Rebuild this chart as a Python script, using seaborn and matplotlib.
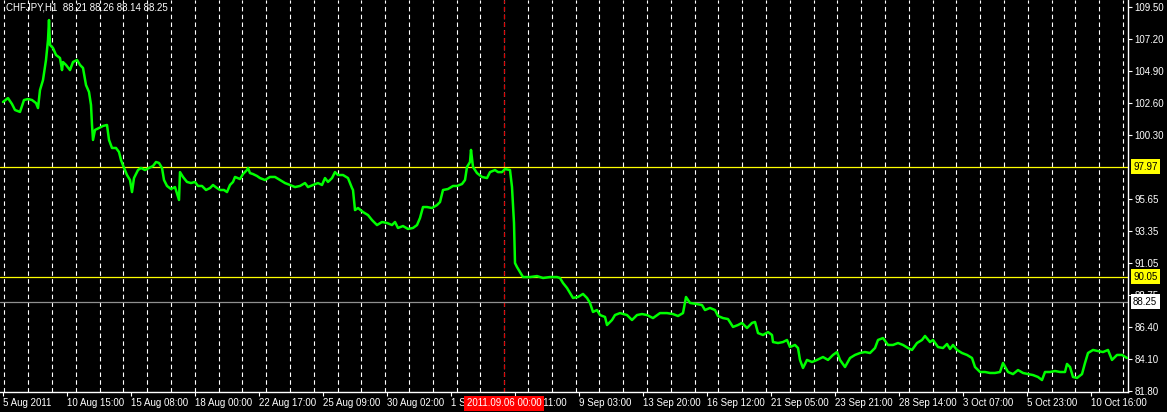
import pandas as pd
import matplotlib
matplotlib.use('Agg')
import matplotlib.pyplot as plt
import matplotlib.transforms as mtransforms
import seaborn as sns

# chart header
symbol = 'CHFJPY,H1'
last_ohlc = [88.21, 88.26, 88.14, 88.25]

# hourly bar number (0 = first bar on the chart) and close price
bar = [0, 5, 9, 12, 17, 21, 25, 29, 33, 35, 37, 40, 43, 45, 46, 47, 50, 53, 57, 59,
       60, 63, 67, 70, 74, 77, 80, 83, 86, 88, 89, 90, 92, 96, 100, 104, 106, 109, 113, 116,
       118, 121, 124, 127, 129, 131, 135, 138, 142, 146, 150, 153, 156, 159, 161, 164, 168, 172, 176, 177,
       180, 184, 188, 192, 195, 199, 203, 207, 210, 214, 217, 221, 224, 227, 230, 232, 237, 240, 244, 245,
       247, 250, 254, 257, 262, 267, 272, 277, 282, 287, 292, 297, 302, 305, 310, 315, 319, 322, 325, 329,
       332, 335, 340, 345, 349, 350, 352, 355, 360, 365, 369, 374, 379, 384, 389, 392, 395, 400, 405, 410,
       414, 417, 420, 424, 429, 434, 437, 440, 445, 450, 454, 459, 462, 464, 467, 468, 470, 474, 479, 484,
       487, 492, 495, 499, 502, 507, 509, 511, 512, 514, 517, 520, 527, 534, 540, 547, 554, 557, 560, 564,
       567, 570, 575, 580, 584, 587, 590, 594, 597, 602, 604, 609, 612, 617, 624, 629, 634, 639, 644, 650,
       657, 664, 670, 675, 680, 683, 687, 694, 699, 702, 707, 712, 715, 720, 725, 730, 735, 739, 744, 749,
       752, 755, 760, 765, 769, 770, 775, 780, 784, 787, 792, 795, 797, 800, 804, 809, 814, 820, 825, 830,
       834, 837, 842, 847, 852, 857, 862, 867, 872, 875, 880, 885, 890, 895, 900, 905, 909, 914, 919, 922,
       927, 930, 935, 940, 944, 947, 950, 954, 959, 964, 969, 972, 977, 982, 987, 992, 997, 1000, 1005, 1010,
       1015, 1020, 1025, 1030, 1035, 1039, 1042, 1047, 1052, 1057, 1062, 1064, 1067, 1070, 1074, 1079, 1082, 1085, 1090, 1095,
       1100, 1105, 1109, 1114, 1119, 1124]
close = [102.65, 102.93, 102.50, 102.07, 101.93, 102.79, 102.86, 102.79, 102.57, 102.21, 103.51, 104.23, 105.68, 107.12, 108.56, 106.76, 106.54, 106.04, 105.82, 104.95,
         105.53, 105.32, 104.95, 105.53, 105.68, 105.32, 105.10, 103.87, 103.37, 102.43, 100.99, 99.91, 100.63, 100.77, 100.92, 100.99, 99.91, 99.33, 99.33, 99.04,
         98.46, 97.89, 97.38, 97.02, 96.15, 97.16, 97.74, 97.89, 97.74, 97.89, 98.03, 98.32, 98.25, 97.89, 97.02, 96.59, 96.37, 96.51, 95.58, 97.59,
         97.24, 96.88, 96.80, 96.88, 96.59, 96.59, 96.30, 96.44, 96.66, 96.44, 96.30, 96.30, 96.15, 96.66, 96.88, 97.24, 97.09, 97.45, 97.74, 97.89,
         97.52, 97.45, 97.31, 97.16, 97.02, 97.24, 97.24, 97.02, 96.80, 96.66, 96.51, 96.59, 96.80, 96.51, 96.66, 96.80, 96.66, 97.16, 96.88, 97.16,
         97.59, 97.38, 97.38, 97.16, 96.44, 96.30, 94.85, 95.00, 94.71, 94.49, 94.13, 93.77, 93.99, 93.92, 93.77, 93.99, 93.56, 93.70, 93.49, 93.56,
         93.77, 94.28, 95.07, 95.07, 95.00, 95.21, 95.43, 96.30, 96.37, 96.59, 96.59, 96.73, 97.02, 97.96, 98.32, 99.19, 97.96, 97.52, 97.24, 97.16,
         97.59, 97.74, 97.59, 97.59, 97.81, 97.74, 96.51, 93.92, 91.03, 90.74, 90.38, 90.02, 90.02, 90.09, 89.95, 90.02, 90.02, 89.95, 89.59, 89.23,
         88.87, 88.51, 88.58, 88.80, 88.51, 88.15, 87.50, 87.64, 87.28, 87.14, 86.56, 86.92, 87.28, 87.42, 87.28, 86.92, 87.28, 87.35, 87.28, 87.06,
         87.42, 87.42, 87.35, 87.21, 87.42, 88.58, 88.15, 88.07, 88.00, 87.64, 87.79, 87.64, 87.21, 87.06, 86.99, 86.42, 86.56, 86.71, 86.34, 86.71,
         86.78, 85.98, 85.84, 86.05, 85.84, 85.33, 85.26, 85.33, 85.48, 84.97, 85.12, 84.90, 84.04, 83.46, 84.04, 83.89, 84.04, 84.25, 84.04, 84.40,
         84.61, 84.04, 83.53, 84.18, 84.40, 84.54, 84.61, 84.54, 84.90, 85.48, 85.62, 85.12, 85.12, 85.26, 85.12, 84.90, 84.76, 85.26, 85.48, 85.77,
         85.33, 85.48, 84.97, 84.90, 85.19, 84.83, 85.12, 84.76, 84.54, 84.40, 84.18, 83.53, 83.17, 83.17, 83.10, 83.10, 83.17, 83.82, 83.17, 83.02,
         83.31, 83.10, 83.02, 82.95, 82.81, 82.59, 83.17, 83.17, 83.24, 83.17, 83.17, 83.75, 83.53, 82.81, 82.74, 83.02, 83.82, 84.54, 84.76, 84.68,
         84.61, 84.76, 84.04, 84.40, 84.40, 84.18]

# horizontal lines drawn on the chart and the bid line
levels = [97.97, 90.05]
bid = 88.25
price_ticks = [109.50, 107.20, 104.90, 102.60, 100.30, 95.65, 93.35, 91.05, 88.75, 86.40, 84.10, 81.80]
crosshair_time = pd.Timestamp('2011-09-06 00:00')

df = pd.DataFrame({'bar': bar, 'close': close})

# H1 bars: Mon-Fri, friday session ends at 23:00
hours = pd.date_range('2011-08-05 22:00', '2011-10-14 00:00', freq='h')
hours = hours[(hours.dayofweek < 4) | ((hours.dayofweek == 4) & (hours.hour < 23))]
day_starts = [i for i, t in enumerate(hours) if t.hour == 0 and i < 1126]
label_bars = list(range(0, 1126, 64))
time_labels = []
for i in label_bars:
    t = hours[i]
    if i == 0:
        time_labels.append(f'{t.day} {t:%b %Y}')
    else:
        time_labels.append(f'{t.day} {t:%b %H:%M}')
cross_bar = hours.get_loc(crosshair_time)

sns.set_theme(style='dark', rc={'axes.facecolor': 'black', 'figure.facecolor': 'black'})
plt.rcParams['font.family'] = ['Liberation Sans', 'DejaVu Sans']
fs = 7

W, H = 1167, 412
fig = plt.figure(figsize=(W / 100, H / 100), dpi=100)
ax = fig.add_axes([0, 20 / H, 1128 / W, 392 / H])
ax.set_facecolor('black')

# day separators
ax.vlines(day_starts, 0, 1, transform=ax.get_xaxis_transform(), colors='white',
          linewidth=0.8, linestyles=(0, (4, 3)), zorder=1)
ax.axvline(cross_bar, color='#e00000', linewidth=0.8, linestyle=(0, (4, 3)), zorder=1)

for lv in levels:
    ax.axhline(lv, color='#ffff00', linewidth=0.9, zorder=2)
ax.axhline(bid, color='#909090', linewidth=0.9, zorder=2)

sns.lineplot(data=df, x='bar', y='close', ax=ax, color='#00ff00', linewidth=1.8,
             estimator=None, sort=False, zorder=3)

ax.set_xlim(-3, 1125)
ax.set_ylim(81.727, 110.005)

for side in ['left', 'top']:
    ax.spines[side].set_visible(False)
for side in ['right', 'bottom']:
    ax.spines[side].set_visible(True)
    ax.spines[side].set_color('white')
    ax.spines[side].set_linewidth(1)

ax.set_xticks(label_bars)
ax.set_xticklabels(time_labels, ha='left')
ax.set_yticks(price_ticks)
ax.set_yticklabels([f'{p:.2f}' for p in price_ticks])
ax.yaxis.tick_right()
ax.tick_params(axis='both', direction='out', length=3, width=0.8, color='white',
               labelcolor='white', labelsize=fs)
ax.tick_params(axis='x', pad=1.5, bottom=True)
ax.tick_params(axis='y', pad=1.5, right=True, left=False)
ax.set_xlabel('')
ax.set_ylabel('')
ax.grid(False)

# price labels on the right scale
ytrans = mtransforms.blended_transform_factory(ax.transAxes, ax.transData)
for lv in levels:
    ax.text(1133 / 1128, lv, f'{lv:.2f}', transform=ytrans, ha='left', va='center',
            fontsize=fs, color='black', clip_on=False, zorder=5,
            bbox=dict(boxstyle='square,pad=0.25', fc='#ffff00', ec='none'))
ax.text(1133 / 1128, bid, f'{bid:.2f}', transform=ytrans, ha='left', va='center',
        fontsize=fs, color='black', clip_on=False, zorder=5,
        bbox=dict(boxstyle='square,pad=0.25', fc='white', ec='none'))

# crosshair time label
xtrans = mtransforms.blended_transform_factory(ax.transData, ax.transAxes)
ax.text(cross_bar, -11.5 / 392, f'{crosshair_time:%Y.%m.%d %H:%M}', transform=xtrans,
        ha='center', va='center', fontsize=fs, color='white', clip_on=False, zorder=5,
        bbox=dict(boxstyle='square,pad=0.25', fc='#ff0000', ec='none'))

ax.text(6 / 1128, 1 - 8 / 392, symbol + '  ' + ' '.join(f'{v:.2f}' for v in last_ohlc),
        transform=ax.transAxes, ha='left', va='center', fontsize=fs, color='white', zorder=5)

fig.savefig('out.png', dpi=100, facecolor='black')
